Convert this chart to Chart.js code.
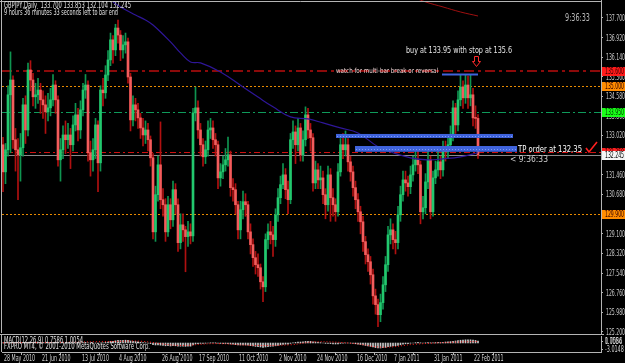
<!DOCTYPE html>
<html lang="en">

<head>
    <meta charset="UTF-8">
    <script src="https://cdn.jsdelivr.net/npm/chart.js"></script>
    <title>GBPJPY Daily</title>
</head>

<body>
    <canvas id="main" width="625" height="335"></canvas>
    <canvas id="macd" width="625" height="28"></canvas>
    <style>
        body {
            background-color: #000;
            margin: 0;
            overflow: hidden;
        }

        #main {
            position: absolute;
            left: 0;
            top: 0;
        }

        #macd {
            position: absolute;
            left: 0;
            top: 335px;
        }
    </style>
    <script>
        // daily bars, 28 May 2010 .. 24 Feb 2011
        const opens = [132.65, 131.57, 132.45, 134.64, 135.23, 132.85, 132.45, 132.25, 132.53, 134.24,
            133.24, 135.63, 135.23, 134.56, 134.64, 134.83, 134.44, 134.24, 133.96, 134.12,
            134.44, 135.03, 134.44, 132.05, 132.45, 133.04, 132.85, 133.04, 132.65, 133.44,
            133.84, 133.24, 134.04, 134.83, 135.03, 132.33, 132.05, 132.45, 133.44, 131.93,
            134.83, 134.72, 135.43, 136.03, 136.83, 136.43, 137.30, 137.02, 136.43, 136.63,
            136.75, 135.35, 133.64, 134.24, 134.04, 133.72, 133.32, 133.04, 133.24, 132.85,
            132.13, 129.18, 130.66, 131.85, 130.46, 130.26, 129.18, 130.26, 129.66, 130.86,
            130.26, 128.75, 129.46, 129.26, 128.99, 129.18, 129.02, 133.92, 134.12, 133.24,
            132.65, 132.17, 132.45, 133.24, 133.32, 132.85, 132.65, 131.33, 131.57, 131.85,
            132.05, 132.25, 130.94, 130.86, 130.26, 129.26, 130.06, 130.38, 130.26, 129.18,
            128.67, 128.15, 127.87, 127.75, 127.19, 126.99, 128.87, 129.18, 129.06, 128.87,
            129.86, 130.54, 131.06, 131.45, 130.86, 130.46, 132.85, 133.16, 132.65, 133.32,
            132.25, 132.85, 133.84, 133.24, 132.93, 131.13, 131.65, 131.25, 131.33, 130.66,
            130.26, 131.45, 130.54, 130.26, 129.98, 131.57, 132.65, 132.45, 132.65, 131.97,
            131.57, 130.94, 130.46, 129.98, 129.58, 128.79, 128.27, 127.99, 127.47, 126.63,
            126.28, 125.88, 126.36, 127.07, 127.87, 129.06, 129.26, 128.87, 128.75, 129.86,
            130.66, 131.25, 131.13, 130.98, 131.45, 131.85, 132.05, 131.85, 129.98, 130.14,
            131.17, 132.05, 129.98, 131.33, 131.65, 131.97, 131.65, 132.45, 132.37, 132.65,
            133.04, 134.12, 133.44, 134.44, 134.95, 134.52, 135.03, 134.52, 134.64, 133.72,
            133.70];
        const highs = [132.95, 132.70, 135.00, 136.35, 135.40, 133.30, 132.90, 133.10, 134.50, 134.60,
            135.90, 136.00, 135.50, 135.10, 135.30, 135.10, 134.80, 134.60, 134.70, 134.90,
            135.45, 135.20, 134.60, 132.90, 133.40, 133.60, 133.50, 133.30, 133.80, 134.30,
            134.10, 134.40, 135.10, 135.45, 135.20, 132.80, 132.90, 133.70, 133.60, 135.00,
            135.30, 135.80, 136.40, 137.10, 137.00, 137.45, 137.62, 137.20, 137.00, 137.10,
            136.90, 135.50, 134.60, 134.50, 134.30, 133.90, 133.70, 133.60, 133.50, 133.00,
            132.30, 131.00, 132.20, 133.56, 130.90, 130.50, 130.60, 130.50, 131.20, 131.10,
            130.50, 129.90, 129.90, 129.40, 129.60, 129.50, 134.10, 134.95, 134.40, 133.50,
            132.90, 132.80, 133.60, 133.70, 133.60, 133.10, 132.80, 131.90, 132.20, 132.50,
            132.96, 132.40, 131.30, 131.10, 130.40, 130.40, 130.80, 130.70, 130.40, 129.50,
            128.90, 128.40, 128.30, 127.90, 127.40, 129.10, 129.50, 129.60, 129.40, 130.10,
            130.90, 131.40, 131.90, 131.70, 131.20, 133.10, 133.60, 133.40, 133.70, 133.50,
            133.20, 134.16, 134.10, 133.50, 133.10, 132.00, 131.90, 131.80, 131.60, 130.90,
            131.80, 131.70, 130.90, 130.50, 131.90, 132.90, 133.10, 133.20, 132.90, 132.20,
            131.80, 131.20, 130.70, 130.20, 129.80, 129.00, 128.50, 128.20, 127.70, 126.90,
            126.50, 126.70, 127.40, 128.20, 129.40, 129.70, 129.50, 129.20, 130.20, 131.00,
            131.60, 131.60, 131.40, 131.80, 132.20, 132.50, 132.40, 132.00, 130.60, 131.50,
            132.40, 132.20, 131.60, 132.00, 132.40, 132.20, 132.80, 132.80, 133.00, 133.40,
            134.40, 134.30, 134.80, 135.45, 135.20, 135.43, 135.40, 135.45, 134.90, 134.20,
            133.853];
        const lows = [130.78, 131.10, 132.20, 132.33, 132.50, 131.60, 130.46, 131.20, 132.20, 132.70,
            133.00, 134.80, 134.20, 134.10, 134.30, 133.90, 133.70, 133.10, 133.60, 133.80,
            134.20, 133.90, 131.80, 131.20, 132.10, 132.30, 132.50, 131.70, 132.40, 133.20,
            132.80, 132.90, 133.80, 134.50, 132.00, 131.40, 131.60, 132.10, 130.78, 131.60,
            134.20, 134.50, 135.20, 135.80, 135.90, 136.20, 136.70, 136.00, 136.10, 136.30,
            135.10, 133.20, 133.40, 133.60, 133.30, 132.90, 132.60, 132.70, 132.40, 131.80,
            128.90, 128.80, 130.40, 130.10, 129.80, 128.80, 129.00, 129.30, 129.40, 129.90,
            128.40, 128.50, 128.80, 127.59, 128.60, 128.70, 128.80, 133.60, 132.90, 132.20,
            131.80, 131.90, 132.20, 132.90, 132.50, 132.20, 130.90, 131.00, 131.30, 131.60,
            131.80, 130.60, 130.40, 129.90, 128.90, 128.90, 129.70, 129.80, 128.90, 128.30,
            127.80, 127.50, 127.40, 126.90, 126.40, 126.80, 128.50, 128.70, 128.20, 128.60,
            129.60, 130.30, 130.90, 130.50, 129.90, 130.30, 132.50, 131.90, 132.40, 132.00,
            132.00, 132.60, 132.90, 132.40, 130.80, 130.90, 130.90, 130.90, 130.30, 129.70,
            130.00, 129.60, 129.80, 129.60, 129.80, 131.40, 132.10, 132.20, 131.60, 131.20,
            130.60, 130.10, 129.60, 129.10, 128.40, 127.90, 127.60, 127.10, 126.30, 125.90,
            125.40, 125.60, 126.10, 126.80, 127.60, 128.70, 128.50, 128.30, 128.50, 129.60,
            130.40, 130.80, 130.60, 130.70, 131.20, 131.60, 131.50, 129.50, 129.70, 129.90,
            130.90, 129.70, 129.80, 131.10, 131.40, 131.30, 131.40, 132.00, 132.10, 132.40,
            132.80, 133.10, 133.20, 134.20, 134.10, 134.30, 134.10, 134.20, 133.40, 133.30,
            132.104];
        const closes = [131.57, 132.45, 134.64, 135.23, 132.85, 132.45, 132.25, 132.53, 134.24, 133.24,
            135.63, 135.23, 134.56, 134.64, 134.83, 134.44, 134.24, 133.96, 134.12, 134.44,
            135.03, 134.44, 132.05, 132.45, 133.04, 132.85, 133.04, 132.65, 133.44, 133.84,
            133.24, 134.04, 134.83, 135.03, 132.33, 132.05, 132.45, 133.44, 131.93, 134.83,
            134.72, 135.43, 136.03, 136.83, 136.43, 137.30, 137.02, 136.43, 136.63, 136.75,
            135.35, 133.64, 134.24, 134.04, 133.72, 133.32, 133.04, 133.24, 132.85, 132.13,
            129.18, 130.66, 131.85, 130.46, 130.26, 129.18, 130.26, 129.66, 130.86, 130.26,
            128.75, 129.46, 129.26, 128.99, 129.18, 129.02, 133.92, 134.12, 133.24, 132.65,
            132.17, 132.45, 133.24, 133.32, 132.85, 132.65, 131.33, 131.57, 131.85, 132.05,
            132.25, 130.94, 130.86, 130.26, 129.26, 130.06, 130.38, 130.26, 129.18, 128.67,
            128.15, 127.87, 127.75, 127.19, 126.99, 128.87, 129.18, 129.06, 128.87, 129.86,
            130.54, 131.06, 131.45, 130.86, 130.46, 132.85, 133.16, 132.65, 133.32, 132.25,
            132.85, 133.84, 133.24, 132.93, 131.13, 131.65, 131.25, 131.33, 130.66, 130.26,
            131.45, 130.54, 130.26, 129.98, 131.57, 132.65, 132.45, 132.65, 131.97, 131.57,
            130.94, 130.46, 129.98, 129.58, 128.79, 128.27, 127.99, 127.47, 126.63, 126.28,
            125.88, 126.36, 127.07, 127.87, 129.06, 129.26, 128.87, 128.75, 129.86, 130.66,
            131.25, 131.13, 130.98, 131.45, 131.85, 132.05, 131.85, 129.98, 130.14, 131.17,
            132.05, 129.98, 131.33, 131.65, 131.97, 131.65, 132.45, 132.37, 132.65, 133.04,
            134.12, 133.44, 134.44, 134.95, 134.52, 135.03, 134.52, 134.64, 133.72, 133.70,
            132.245];

        // moving averages (sparse points)
        const maBars = [44, 47, 53, 57, 60, 67, 71, 75, 79, 87, 96, 102, 108, 115, 122, 128, 135, 142, 150, 156, 163, 170, 176, 183, 190];
        const maValues = [138.34, 138.14, 137.82, 137.62, 137.42, 136.75, 136.31, 135.95, 135.91, 135.55, 134.95, 134.55, 134.16, 133.76, 133.68, 133.52, 133.32, 133.12, 132.57, 132.33, 132.13, 132.05, 132.09, 132.17, 132.33];
        const slowBars = [165, 169, 176, 183, 190];
        const slowValues = [138.50, 138.34, 138.14, 137.94, 137.78];

        // MACD(12,26,9)
        const macd = [0.1, 0.0, 0.1, 0.3, 0.2, 0.1, 0.0, 0.0, 0.1, 0.1,
            0.3, 0.4, 0.4, 0.4, 0.5, 0.4, 0.4, 0.3, 0.3, 0.3,
            0.4, 0.4, 0.2, 0.1, 0.0, -0.1, -0.1, -0.2, -0.1, -0.1,
            -0.1, 0.0, 0.2, 0.3, 0.1, -0.1, -0.2, -0.1, -0.3, 0.0,
            0.1, 0.3, 0.5, 0.8, 0.9, 1.1, 1.3, 1.3, 1.4, 1.4,
            1.3, 1.0, 0.9, 0.8, 0.6, 0.4, 0.2, 0.1, -0.1, -0.3,
            -0.8, -1.0, -1.0, -1.1, -1.2, -1.4, -1.4, -1.5, -1.4, -1.4,
            -1.6, -1.6, -1.6, -1.7, -1.6, -1.6, -1.0, -0.5, -0.3, -0.2,
            -0.2, -0.1, 0.0, 0.1, 0.1, 0.1, -0.1, -0.2, -0.3, -0.3,
            -0.3, -0.5, -0.6, -0.8, -1.0, -1.0, -1.0, -1.0, -1.1, -1.3,
            -1.5, -1.7, -1.8, -2.0, -2.2, -2.0, -1.8, -1.7, -1.6, -1.4,
            -1.2, -0.9, -0.7, -0.6, -0.6, -0.2, 0.1, 0.3, 0.5, 0.5,
            0.6, 0.8, 0.8, 0.8, 0.6, 0.5, 0.3, 0.2, 0.0, -0.2,
            -0.2, -0.3, -0.4, -0.5, -0.4, -0.2, -0.1, 0.0, 0.0, -0.1,
            -0.2, -0.4, -0.6, -0.8, -1.0, -1.3, -1.5, -1.7, -2.0, -2.3,
            -2.5, -2.5, -2.4, -2.2, -1.9, -1.7, -1.5, -1.4, -1.2, -0.9,
            -0.6, -0.4, -0.3, -0.1, 0.0, 0.2, 0.3, 0.1, 0.0, 0.1,
            0.2, 0.1, 0.1, 0.2, 0.3, 0.3, 0.4, 0.5, 0.6, 0.7,
            0.9, 1.0, 1.2, 1.4, 1.5, 1.6, 1.6, 1.6, 1.5, 1.3, 1.0054];
        const signalBars = [0, 20, 45, 55, 70, 85, 100, 115, 125, 140, 152, 165, 180, 190];
        const signalValues = [0.1, 0.3, 0.8, 0.9, -1.2, -0.3, -1.2, -0.9, 0.6, -0.2, -2.1, -0.6, 0.4, 0.7586];

        // axes
        const priceTicks = [137.7, 136.92, 136.14, 135.36, 134.58, 133.8, 133.02, 132.24, 131.46, 130.68, 129.9, 129.1, 128.32, 127.54, 126.76, 125.98, 125.2];
        const dateLabels = ["28 May 2010", "21 Jun 2010", "13 Jul 2010", "4 Aug 2010", "26 Aug 2010", "17 Sep 2010", "11 Oct 2010", "2 Nov 2010", "24 Nov 2010", "16 Dec 2010", "7 Jan 2011", "31 Jan 2011", "22 Feb 2011"];
        const dateBars = [0, 15, 31, 46, 63, 78, 94, 110, 125, 141, 156, 172, 188];
        const macdTicks = [1.0054, 0.7586, -3.0148];

        // drawn objects
        const levelPrices = [135.6, 135.0, 133.95, 132.35, 132.245, 129.9];
        const levelTags = ["135.600", "135.000", "133.950", "132.350", "132.245", "129.900"];
        const zoneFrom = [133.2, 140.8];
        const zoneTo = [204, 205.6];
        const zoneHigh = [133.08, 132.60];
        const zoneLow = [132.92, 132.37];
        const entryFrom = 175.6, entryTo = 190, entryPrice = 135.45;

        const FONT = "'Liberation Sans Narrow', 'DejaVu Sans Condensed', 'DejaVu Sans', sans-serif";
        const levelStyles = [
            { color: "#8c0a0a", width: 2, dash: [10, 4, 3, 4], tag: "#ff1a1a", tagText: "#300" },
            { color: "#e88a00", width: 1, dash: [2, 2], tag: "#ff8c00", tagText: "#300" },
            { color: "#0f9a5a", width: 1, dash: [8, 3, 2, 3], tag: "#19ff19", tagText: "#030" },
            { color: "#d01010", width: 1, dash: [6, 3, 2, 3], tag: "#ff2020", tagText: "#300" },
            { color: "#8a8a8a", width: 1, dash: [], tag: "#f4f4f4", tagText: "#000" },
            { color: "#e88a00", width: 1, dash: [2, 2], tag: "#ff8c00", tagText: "#300" }
        ];

        const barIdx = closes.map((_, i) => i);
        const up = barIdx.map(i => closes[i] >= opens[i]);

        // text stretched/squeezed to the width it has in the screenshot
        const fitText = (ctx, text, x, y, size, color, width) => {
            ctx.save();
            ctx.font = size + "px " + FONT;
            const w = ctx.measureText(text).width;
            ctx.restore();
            squeezeText(ctx, text, x, y, size, color, width / w);
        };
        const squeezeText = (ctx, text, x, y, size, color, sx) => {
            ctx.save();
            ctx.font = size + "px " + FONT;
            ctx.fillStyle = color;
            ctx.textBaseline = "middle";
            ctx.textAlign = "left";
            ctx.translate(x, y);
            ctx.scale(sx, 1);
            ctx.fillText(text, 0, 0);
            ctx.restore();
        };
        const ratioFor = (ctx, sample, size, width) => {
            ctx.save();
            ctx.font = size + "px " + FONT;
            const w = ctx.measureText(sample).width;
            ctx.restore();
            return width / w;
        };

        const mainOverlay = {
            id: "mainOverlay",
            beforeDatasetsDraw(chart) {
                const { ctx, chartArea: a, scales: { y } } = chart;
                levelPrices.forEach((p, k) => {
                    const s = levelStyles[k];
                    const py = Math.round(y.getPixelForValue(p)) + (s.width === 2 ? 0 : 0.5);
                    ctx.save();
                    ctx.strokeStyle = s.color;
                    ctx.lineWidth = s.width;
                    ctx.setLineDash(s.dash);
                    ctx.beginPath();
                    ctx.moveTo(a.left, py);
                    ctx.lineTo(a.right, py);
                    ctx.stroke();
                    ctx.restore();
                });
            },
            afterDatasetsDraw(chart) {
                const { ctx, scales: { x, y } } = chart;
                ctx.save();
                // support zones
                zoneFrom.forEach((f, k) => {
                    const x0 = x.getPixelForValue(f), x1 = x.getPixelForValue(zoneTo[k]);
                    const y0 = y.getPixelForValue(zoneHigh[k]), y1 = y.getPixelForValue(zoneLow[k]);
                    ctx.fillStyle = "#3f63dc";
                    ctx.fillRect(x0, y0, x1 - x0, y1 - y0);
                    ctx.strokeStyle = "#7f9cf2";
                    ctx.lineWidth = 1;
                    ctx.setLineDash([1, 2]);
                    ctx.beginPath();
                    ctx.moveTo(x0 + 1, Math.round((y0 + y1) / 2) + 0.5);
                    ctx.lineTo(x1 - 1, Math.round((y0 + y1) / 2) + 0.5);
                    ctx.stroke();
                    ctx.setLineDash([]);
                });
                // entry line at the top
                const ey = Math.round(y.getPixelForValue(entryPrice)) + 0.5;
                ctx.strokeStyle = "#3f63dc";
                ctx.lineWidth = 2;
                ctx.beginPath();
                ctx.moveTo(x.getPixelForValue(entryFrom), ey);
                ctx.lineTo(x.getPixelForValue(entryTo), ey);
                ctx.stroke();

                // notes
                const bx = x.getPixelForValue(161.2), by = y.getPixelForValue(136.39);
                fitText(ctx, "buy at 133.95 with stop at 135.6", bx, by, 9, "#e6e6e6", 106);
                const wx = x.getPixelForValue(133.2), wy = y.getPixelForValue(135.57);
                fitText(ctx, "watch for multi-bar break or reversal", wx, wy, 7, "#f0d6d6", 102);
                const tx = x.getPixelForValue(206), ty = y.getPixelForValue(132.46);
                fitText(ctx, "TP order at 132.35", tx, ty, 9, "#ffffff", 64);
                const cx = x.getPixelForValue(202.8), cy = y.getPixelForValue(132.03);
                fitText(ctx, "< 9:36:33", cx, cy, 8, "#d0d0d0", 38);

                // hollow down arrow
                const ax = Math.round(x.getPixelForValue(189.2)) + 0.5, ay = Math.round(y.getPixelForValue(136.17)) + 0.5;
                ctx.strokeStyle = "#ff2a2a";
                ctx.lineWidth = 1;
                ctx.beginPath();
                ctx.moveTo(ax - 2, ay);
                ctx.lineTo(ax + 2, ay);
                ctx.lineTo(ax + 2, ay + 5);
                ctx.lineTo(ax + 4, ay + 5);
                ctx.lineTo(ax, ay + 10);
                ctx.lineTo(ax - 4, ay + 5);
                ctx.lineTo(ax - 2, ay + 5);
                ctx.closePath();
                ctx.stroke();

                // check mark
                const kx = x.getPixelForValue(233.2), ky = y.getPixelForValue(132.52);
                ctx.strokeStyle = "#ff2020";
                ctx.lineWidth = 1.6;
                ctx.beginPath();
                ctx.moveTo(kx, ky);
                ctx.lineTo(kx + 3, ky + 4);
                ctx.lineTo(kx + 11, ky - 6);
                ctx.stroke();
                ctx.restore();
            },
            afterDraw(chart) {
                const { ctx, chartArea: a, scales: { y }, width } = chart;
                ctx.save();
                // price scale labels
                const sy = ratioFor(ctx, "137.700", 8, 19);
                priceTicks.forEach(v => {
                    squeezeText(ctx, v.toFixed(3), a.right + 5, Math.round(y.getPixelForValue(v)) + 0.5, 8, "#c8c8c8", sy);
                });
                // price tags on the axis
                levelPrices.forEach((p, k) => {
                    const s = levelStyles[k];
                    const py = Math.round(y.getPixelForValue(p));
                    ctx.fillStyle = s.tag;
                    ctx.fillRect(a.right + 1, py - 4, width - a.right - 1, 9);
                    fitText(ctx, levelTags[k], a.right + 4, py + 0.5, 8, s.tagText, 19);
                });
                // window frame
                ctx.strokeStyle = "#b4b4b4";
                ctx.lineWidth = 1;
                ctx.beginPath();
                ctx.moveTo(0, 1.5);
                ctx.lineTo(a.right, 1.5);
                ctx.moveTo(1.5, 0);
                ctx.lineTo(1.5, a.bottom);
                ctx.moveTo(0, 334.5);
                ctx.lineTo(a.right + 3, 334.5);
                ctx.stroke();
                // header and clock
                fitText(ctx, "GBPJPY,Daily  133.700 133.853 132.104 132.245", 4, 6, 8, "#e0e0e0", 127);
                fitText(ctx, "9 hours 36 minutes 33 seconds left to bar end", 4, 12.5, 8, "#e0e0e0", 114);
                fitText(ctx, "9:36:33", a.right - 36, 18, 10, "#b8b8b8", 25);
                ctx.restore();
            }
        };

        const macdOverlay = {
            id: "macdOverlay",
            afterDraw(chart) {
                const { ctx, chartArea: a, scales: { x, y } } = chart;
                ctx.save();
                ctx.strokeStyle = "#b4b4b4";
                ctx.lineWidth = 1;
                ctx.beginPath();
                ctx.moveTo(1.5, 0);
                ctx.lineTo(1.5, a.bottom);
                ctx.stroke();
                fitText(ctx, "MACD(12,26,9) 0.7586 1.0054", 4, 6, 8, "#e0e0e0", 79);
                fitText(ctx, "FXPRO MT4, \u00a9 2001-2010 MetaQuotes Software Corp.", 4, 12, 8, "#e0e0e0", 146);
                // value labels
                const sv = ratioFor(ctx, "1.0054", 8, 17);
                macdTicks.forEach(v => {
                    squeezeText(ctx, v.toFixed(4), a.right + 4, Math.round(y.getPixelForValue(v)) + 0.5, 8, "#d0d0d0", sv);
                });
                // date labels
                const sd = ratioFor(ctx, dateLabels[0], 8, 31);
                dateBars.forEach((b, k) => {
                    squeezeText(ctx, dateLabels[k], Math.round(x.getPixelForValue(b)) + 1, a.bottom + 6.5, 8, "#d0d0d0", sd);
                });
                ctx.restore();
            }
        };

        Chart.defaults.font.family = FONT;
        Chart.defaults.color = "#c8c8c8";

        const noPad = (s) => {
            s.paddingTop = 0;
            s.paddingBottom = 0;
            s.paddingLeft = 0;
            s.paddingRight = 0;
        };

        new Chart(document.getElementById("main"), {
            type: "bar",
            data: {
                datasets: [
                    {
                        data: barIdx.map(i => ({ x: i, y: [opens[i], closes[i]] })),
                        backgroundColor: barIdx.map(i => up[i] ? "#22c86e" : "#f45c5c"),
                        barThickness: 2,
                        minBarLength: 1,
                        grouped: false,
                        order: 1
                    },
                    {
                        data: barIdx.map(i => ({ x: i, y: [lows[i], highs[i]] })),
                        backgroundColor: barIdx.map(i => up[i] ? "#0f9450" : "#b01010"),
                        barThickness: 1,
                        grouped: false,
                        order: 2
                    },
                    {
                        type: "line",
                        data: maBars.map((b, k) => ({ x: b, y: maValues[k] })),
                        borderColor: "#2e1698",
                        borderWidth: 1.2,
                        pointRadius: 0,
                        tension: 0.4,
                        order: 0
                    },
                    {
                        type: "line",
                        data: slowBars.map((b, k) => ({ x: b, y: slowValues[k] })),
                        borderColor: "#a01010",
                        borderWidth: 1,
                        pointRadius: 0,
                        tension: 0.4,
                        order: 0
                    }
                ]
            },
            options: {
                responsive: false,
                animation: false,
                devicePixelRatio: 1,
                layout: { padding: { left: 2, top: 0, bottom: 2, right: 0 } },
                plugins: { legend: { display: false }, tooltip: { enabled: false } },
                scales: {
                    x: { type: "linear", min: -0.4, max: 239.2, display: false, offset: false },
                    y: {
                        position: "right",
                        min: 125.15,
                        max: 138.417,
                        afterBuildTicks: (s) => { s.ticks = priceTicks.map(v => ({ value: v })); },
                        afterFit: (s) => { s.width = 24; noPad(s); },
                        ticks: { autoSkip: false, callback: () => "" },
                        grid: { drawOnChartArea: false, tickLength: 2, color: "#b4b4b4" },
                        border: { color: "#b4b4b4" }
                    }
                }
            },
            plugins: [mainOverlay]
        });

        new Chart(document.getElementById("macd"), {
            type: "bar",
            data: {
                datasets: [
                    {
                        type: "line",
                        data: signalBars.map((b, k) => ({ x: b, y: signalValues[k] })),
                        borderColor: "#ff1a1a",
                        borderWidth: 1,
                        borderDash: [1, 2],
                        pointRadius: 0,
                        tension: 0.4,
                        order: 0
                    },
                    {
                        data: barIdx.map(i => ({ x: i, y: macd[i] })),
                        backgroundColor: "#c8c8c8",
                        barThickness: 1,
                        grouped: false,
                        order: 1
                    }
                ]
            },
            options: {
                responsive: false,
                animation: false,
                devicePixelRatio: 1,
                layout: { padding: { left: 2, top: 1, bottom: 0, right: 0 } },
                plugins: { legend: { display: false }, tooltip: { enabled: false } },
                scales: {
                    x: {
                        type: "linear",
                        min: -0.4,
                        max: 239.2,
                        offset: false,
                        afterBuildTicks: (s) => { s.ticks = dateBars.map(v => ({ value: v })); },
                        afterFit: (s) => { s.height = 11; noPad(s); },
                        ticks: { autoSkip: false, maxRotation: 0, callback: () => "" },
                        grid: { drawOnChartArea: false, tickLength: 3, color: "#b4b4b4" },
                        border: { color: "#b4b4b4" }
                    },
                    y: {
                        position: "right",
                        min: -4.52,
                        max: 3.518,
                        afterBuildTicks: (s) => { s.ticks = macdTicks.map(v => ({ value: v })); },
                        afterFit: (s) => { s.width = 24; noPad(s); },
                        ticks: { autoSkip: false, callback: () => "" },
                        grid: { drawOnChartArea: false, tickLength: 2, color: "#b4b4b4" },
                        border: { color: "#b4b4b4" }
                    }
                }
            },
            plugins: [macdOverlay]
        });
    </script>
</body>

</html>
